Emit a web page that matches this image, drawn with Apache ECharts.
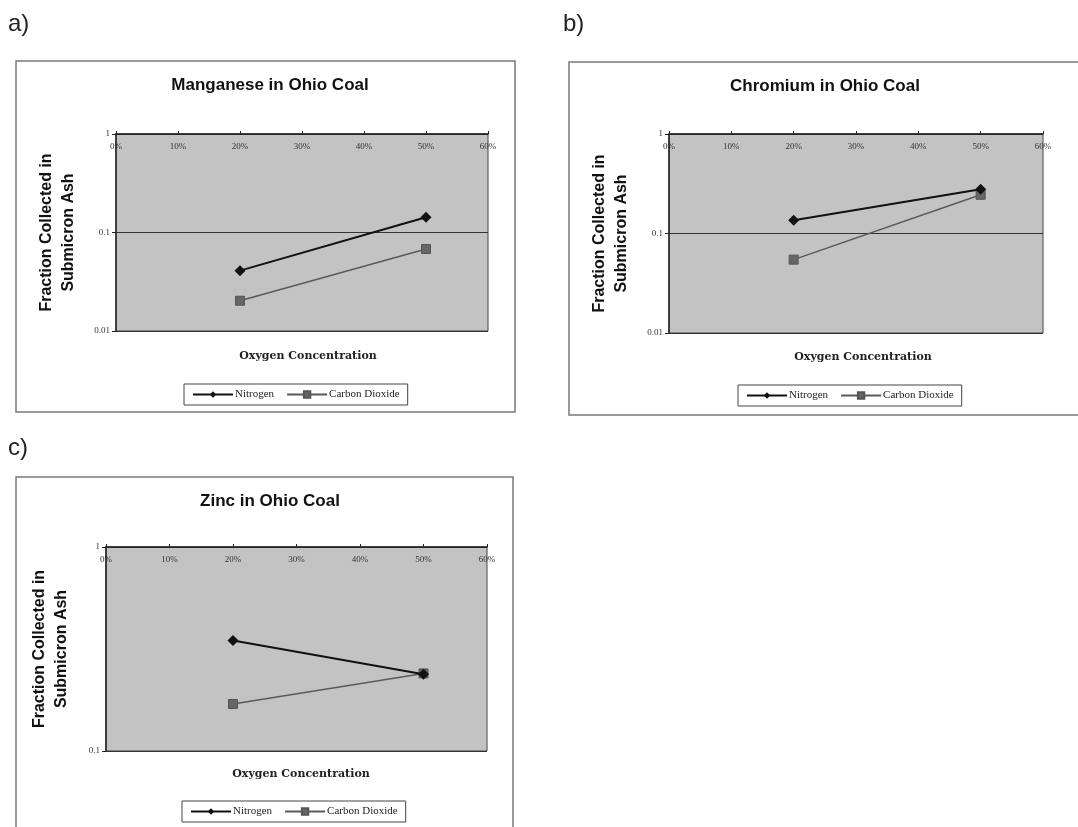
<!DOCTYPE html>
<html>
<head>
<meta charset="utf-8">
<script src="https://cdn.jsdelivr.net/npm/echarts@6/dist/echarts.min.js"></script>
<style>
  html, body { margin: 0; padding: 0; background: #fff; }
  #chart { width: 1078px; height: 827px; }
</style>
</head>
<body>
<div id="chart"></div>
<script>
// Oxygen concentration in the combustion gas (fraction)
const oxygenLevels = [0.2, 0.5];

// Fraction of each metal collected in submicron ash
const manganeseNitrogen = [0.041, 0.143];
const manganeseCarbonDioxide = [0.0203, 0.068];
const chromiumNitrogen = [0.136, 0.278];
const chromiumCarbonDioxide = [0.0546, 0.245];
const zincNitrogen = [0.348, 0.238];
const zincCarbonDioxide = [0.170, 0.240];

const panelTitles = ['Manganese in Ohio Coal', 'Chromium in Ohio Coal', 'Zinc in Ohio Coal'];
const panelLetters = ['a)', 'b)', 'c)'];
const seriesNames = ['Nitrogen', 'Carbon Dioxide'];
const xAxisTitle = 'Oxygen Concentration';
const yAxisTitle = 'Fraction Collected in\nSubmicron Ash';

const panels = [
  { n: manganeseNitrogen, c: manganeseCarbonDioxide, yMin: 0.01, yMax: 1,
    grid: { left: 116, top: 134, width: 372, height: 197 }, nameGap: 36 },
  { n: chromiumNitrogen, c: chromiumCarbonDioxide, yMin: 0.01, yMax: 1,
    grid: { left: 669, top: 134, width: 374, height: 199 }, nameGap: 36 },
  { n: zincNitrogen, c: zincCarbonDioxide, yMin: 0.1, yMax: 1,
    grid: { left: 106, top: 547, width: 381, height: 204 }, nameGap: 33 }
];

const toPairs = vals => oxygenLevels.map((x, i) => [x, vals[i]]);
const serif = 'Liberation Serif';
const sans = 'Liberation Sans';

const grids = panels.map(p => Object.assign({
  show: true,
  backgroundColor: '#c3c3c3',
  borderColor: '#444',
  borderWidth: 1
}, p.grid));

const xAxes = panels.map((p, i) => ({
  type: 'value',
  gridIndex: i,
  position: 'top',
  min: 0,
  max: 0.6,
  interval: 0.1,
  axisLine: { show: true, onZero: false, lineStyle: { color: '#222', width: 1.5 } },
  axisTick: { show: true, length: 3, lineStyle: { color: '#222' } },
  splitLine: { show: false },
  axisLabel: {
    inside: true,
    margin: 8,
    fontFamily: serif,
    fontSize: 9,
    color: '#333',
    formatter: v => Math.round(v * 100) + '%'
  }
}));

const yAxes = panels.map((p, i) => ({
  type: 'log',
  logBase: 10,
  gridIndex: i,
  min: p.yMin,
  max: p.yMax,
  axisLine: { show: true, lineStyle: { color: '#222', width: 1.5 } },
  axisTick: { show: true, length: 4, lineStyle: { color: '#222' } },
  splitLine: { show: true, lineStyle: { color: '#333', width: 1 } },
  axisLabel: {
    fontFamily: serif,
    fontSize: 9,
    color: '#333',
    margin: 6,
    formatter: v => String(+Number(v).toPrecision(1))
  },
  name: yAxisTitle,
  nameLocation: 'middle',
  nameRotate: 90,
  nameGap: p.nameGap,
  nameTextStyle: { fontFamily: sans, fontWeight: 'bold', fontSize: 16, lineHeight: 22, color: '#111' }
}));

const series = [];
panels.forEach((p, i) => {
  series.push({
    name: seriesNames[0],
    type: 'line',
    xAxisIndex: i,
    yAxisIndex: i,
    data: toPairs(p.n),
    symbol: 'diamond',
    symbolSize: 11,
    lineStyle: { color: '#111', width: 2 },
    itemStyle: { color: '#111' },
    z: 3
  });
  series.push({
    name: seriesNames[1],
    type: 'line',
    xAxisIndex: i,
    yAxisIndex: i,
    data: toPairs(p.c),
    symbol: 'rect',
    symbolSize: 9,
    lineStyle: { color: '#5a5a5a', width: 1.5 },
    itemStyle: { color: '#666', borderColor: '#555', borderWidth: 1 },
    z: 2
  });
});

// Chart titles and x-axis titles, one per panel
const titleCenters = [[265, 72], [820, 73], [265, 488]];
const axisTitleCenters = [[303, 346], [858, 347], [296, 764]];
const titles = [];
panelTitles.forEach((t, i) => {
  titles.push({
    text: t, left: titleCenters[i][0], top: titleCenters[i][1], textAlign: 'center',
    textStyle: { fontFamily: sans, fontWeight: 'bold', fontSize: 17, color: '#111' }
  });
  titles.push({
    text: xAxisTitle, left: axisTitleCenters[i][0], top: axisTitleCenters[i][1], textAlign: 'center',
    textStyle: { fontFamily: 'DejaVu Serif', fontWeight: 'bold', fontSize: 11, color: '#222' }
  });
});

// Legend boxes, one per panel
const legendPos = [[184, 384], [738, 385], [182, 801]];
const legends = legendPos.map(pos => ({
  data: seriesNames,
  left: pos[0],
  top: pos[1],
  orient: 'horizontal',
  padding: [5, 8],
  itemGap: 12,
  itemWidth: 40,
  itemHeight: 8,
  borderColor: '#444',
  borderWidth: 1,
  selectedMode: false,
  textStyle: { fontFamily: serif, fontSize: 11, color: '#222', padding: [0, 0, 0, -3] }
}));

// Panel frames and panel letters
const frames = [[16, 61, 499, 351], [569, 62, 520, 353], [16, 477, 497, 360]];
const letterPos = [[8, 12], [563, 12], [8, 436]];
const graphics = [];
frames.forEach(f => graphics.push({
  type: 'rect', silent: true, z: -1,
  shape: { x: f[0], y: f[1], width: f[2], height: f[3] },
  style: { fill: 'none', stroke: '#7a7a7a', lineWidth: 1.5 }
}));
panelLetters.forEach((l, i) => graphics.push({
  type: 'text', silent: true,
  x: letterPos[i][0], y: letterPos[i][1],
  style: { text: l, font: '24px "Liberation Sans"', fill: '#222' }
}));

const chart = echarts.init(document.getElementById('chart'), null, { renderer: 'canvas' });
chart.setOption({
  backgroundColor: '#fff',
  animation: false,
  title: titles,
  legend: legends,
  grid: grids,
  xAxis: xAxes,
  yAxis: yAxes,
  series: series,
  graphic: graphics
});
</script>
</body>
</html>
